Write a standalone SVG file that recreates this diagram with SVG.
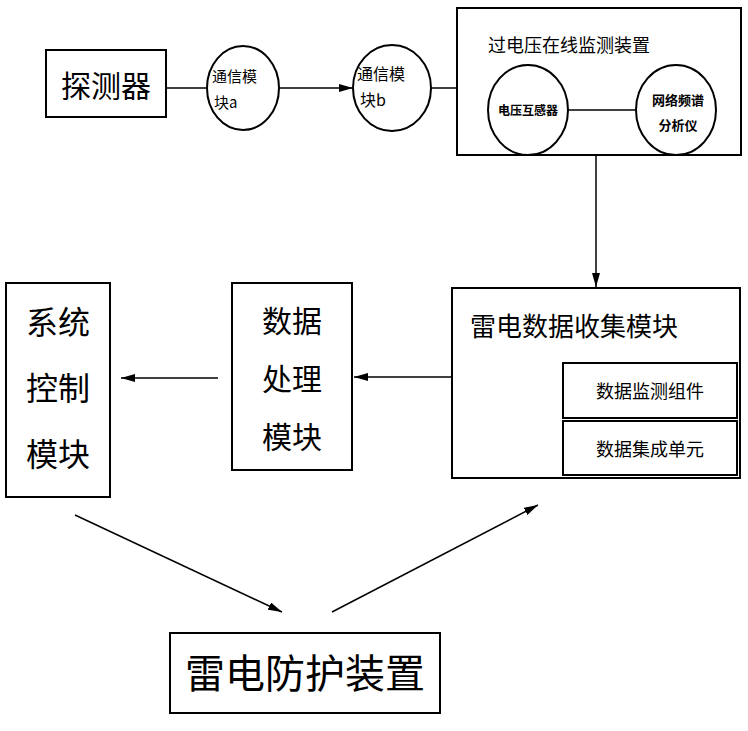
<svg xmlns="http://www.w3.org/2000/svg" width="748" height="731" viewBox="0 0 748 731">
<style>
.b{fill:#fff;stroke:#000;stroke-width:2}
.l{stroke:#000;stroke-width:1.5;fill:none}
text{font-family:"Noto Sans CJK SC","Liberation Sans",sans-serif;fill:#000}
</style>
<defs><marker id="a" markerWidth="14" markerHeight="8" refX="14" refY="4" orient="auto" markerUnits="userSpaceOnUse"><path d="M0,0L14,4L0,8z" fill="#000"/></marker></defs>
<rect width="748" height="731" fill="#fff"/>
<g id="detector"><rect class="b" x="46" y="50" width="120" height="67"/><text x="106" y="97" font-size="30" text-anchor="middle">探测器</text></g>
<g id="comm-a"><ellipse class="b" cx="243" cy="88" rx="36" ry="42"/><text x="212" y="82" font-size="15">通信模</text><text x="214" y="108" font-size="15">块a</text></g>
<g id="comm-b"><ellipse class="b" cx="392" cy="88" rx="39" ry="43"/><text x="357" y="80" font-size="16">通信模</text><text x="360" y="106" font-size="16">块b</text></g>
<g id="monitor"><rect class="b" x="457" y="8" width="284" height="147"/><text x="488" y="52" font-size="18">过电压在线监测装置</text>
<ellipse class="b" cx="528" cy="110" rx="40" ry="45"/><text x="528" y="115" font-size="12" font-weight="bold" text-anchor="middle">电压互感器</text>
<ellipse class="b" cx="676" cy="110" rx="40" ry="45"/><text x="678" y="105" font-size="13" font-weight="bold" text-anchor="middle">网络频谱</text><text x="678" y="130" font-size="13" font-weight="bold" text-anchor="middle">分析仪</text></g>
<g id="collect"><rect class="b" x="452" y="288" width="288" height="190"/><text x="470" y="336" font-size="26">雷电数据收集模块</text>
<rect class="b" x="563" y="363" width="174" height="55"/><text x="650" y="398" font-size="18" text-anchor="middle">数据监测组件</text>
<rect class="b" x="563" y="421" width="174" height="54"/><text x="650" y="456" font-size="18" text-anchor="middle">数据集成单元</text></g>
<g id="process"><rect class="b" x="232" y="283" width="120" height="187"/><text x="292" y="332" font-size="30" text-anchor="middle">数据</text><text x="292" y="390" font-size="30" text-anchor="middle">处理</text><text x="292" y="448" font-size="30" text-anchor="middle">模块</text></g>
<g id="control"><rect class="b" x="6" y="283" width="104" height="214"/><text x="58" y="334" font-size="32" text-anchor="middle">系统</text><text x="58" y="400" font-size="32" text-anchor="middle">控制</text><text x="58" y="466" font-size="32" text-anchor="middle">模块</text></g>
<g id="protect"><rect class="b" x="170" y="633" width="270" height="80"/><text x="305" y="688" font-size="40" text-anchor="middle">雷电防护装置</text></g>
<g id="connectors">
<line class="l" x1="166" y1="88" x2="207" y2="88"/>
<line class="l" x1="280" y1="88" x2="353" y2="88" marker-end="url(#a)"/>
<line class="l" x1="431" y1="88" x2="457" y2="88"/>
<line class="l" x1="568" y1="110" x2="636" y2="110"/>
<line class="l" x1="596" y1="156" x2="596" y2="287" marker-end="url(#a)"/>
<line class="l" x1="451" y1="377" x2="354" y2="377" marker-end="url(#a)"/>
<line class="l" x1="218" y1="378" x2="121" y2="378" marker-end="url(#a)"/>
<line class="l" x1="75" y1="515" x2="282" y2="612" marker-end="url(#a)"/>
<line class="l" x1="332" y1="612" x2="538" y2="505" marker-end="url(#a)"/>
</g>
</svg>
